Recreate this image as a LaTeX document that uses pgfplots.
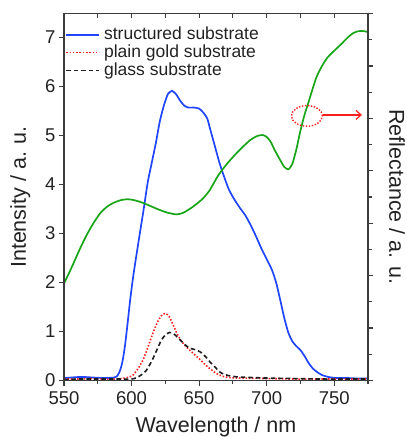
\documentclass[border=0pt]{standalone}
\usepackage{pgfplots}
\pgfplotsset{compat=1.18}
\usepackage{fontspec}
\setmainfont{Liberation Sans}
\usetikzlibrary{arrows.meta}
\definecolor{axgray}{HTML}{3C3C3C}
\definecolor{txtgray}{HTML}{222222}
\definecolor{cblue}{HTML}{1F45FF}
\definecolor{cred}{HTML}{FF1E1E}
\definecolor{cgreen}{HTML}{18A518}
\definecolor{cblack}{HTML}{1E1E1E}
\pgfplotstableread{
x y
550 0.05
555 0.06
560 0.07
566 0.07
572 0.06
580 0.05
587 0.06
589 0.08
591 0.17
593 0.35
595 0.68
597 1.15
599 1.65
601 2.08
603 2.45
606 2.98
609 3.5
612 4.05
615 4.45
618 4.85
621 5.3
624 5.62
627 5.85
630 5.91
633 5.84
636 5.71
639 5.61
642 5.57
646 5.57
650 5.55
653 5.47
656 5.35
658 5.15
661 4.85
665 4.45
668 4.2
672 3.9
676 3.7
680 3.53
684 3.38
688 3.18
692 2.95
696 2.70
700 2.48
704 2.25
707 2.0
710 1.65
713 1.28
716 0.98
719 0.80
722 0.70
725 0.62
728 0.50
731 0.36
734 0.25
737 0.18
741 0.11
746 0.07
752 0.05
760 0.05
768 0.04
775 0.04
}\structured
\pgfplotstableread{
x y
550 0.03
560 0.03
570 0.04
580 0.03
590 0.03
595 0.05
598 0.07
601 0.11
605 0.25
609 0.45
613 0.75
616 0.98
619 1.18
622 1.32
625 1.37
628 1.30
631 1.12
634 0.94
637 0.80
640 0.70
643 0.62
647 0.52
651 0.42
655 0.31
659 0.22
663 0.14
667 0.09
672 0.06
680 0.05
700 0.04
720 0.03
740 0.03
760 0.03
775 0.03
}\gold
\pgfplotstableread{
x y
550 0.02
560 0.03
570 0.03
580 0.03
590 0.03
600 0.03
604 0.06
608 0.13
611 0.21
615 0.40
619 0.64
622 0.82
625 0.93
628 0.98
631 0.96
634 0.88
637 0.80
640 0.72
643 0.66
647 0.63
651 0.58
655 0.48
658 0.38
662 0.27
665 0.18
669 0.12
674 0.09
680 0.07
700 0.05
720 0.04
740 0.03
760 0.03
775 0.03
}\glass
\pgfplotstableread{
x y
550 1.98
553 2.15
557 2.39
562 2.70
567 2.98
572 3.22
577 3.42
582 3.55
587 3.63
592 3.68
597 3.70
602 3.68
608 3.63
614 3.56
620 3.49
626 3.43
633 3.39
638 3.42
643 3.50
648 3.60
653 3.72
658 3.89
664 4.18
670 4.40
676 4.59
682 4.76
688 4.91
693 4.99
697 5.01
700 4.97
703 4.87
706 4.70
710 4.50
713 4.36
716 4.31
719 4.42
722 4.72
725 5.10
728 5.42
731 5.68
734 5.95
737 6.20
741 6.42
745 6.59
750 6.73
755 6.86
760 7.00
764 7.09
768 7.13
772 7.13
775 7.11
}\refl
\begin{document}
\begin{tikzpicture}
\pgfplotsset{
  every axis/.append style={
    scale only axis, width=304pt, height=367pt,
    xmin=550, xmax=775,
    axis line style={draw=axgray, line width=1.2pt},
    every tick/.style={draw=axgray, line width=1.2pt},
    major tick length=5pt, minor tick length=3.5pt,
    /pgf/number format/assume math mode=true,
    tick label style={font=\fontsize{18.5}{20}\selectfont, text=txtgray},
    label style={font=\fontsize{21.5}{23}\selectfont, text=txtgray, inner sep=0pt},
  }
}
% main axis
\begin{axis}[
  ymin=0, ymax=7.49,
  xtick={550,600,...,750}, minor xtick={575,625,...,775},
  ytick={0,...,7},
  xtick pos=bottom, ytick pos=left, tick align=outside,
  xticklabel style={yshift=-3pt},
  xlabel={Wavelength / nm},
  ylabel={Intensity / a. u.},
  xlabel style={at={(axis description cs:0.5,-0.098)}, anchor=north},
  ylabel style={at={(axis description cs:-0.1776,0.5)}, anchor=north},
  legend style={at={(axis description cs:0.004,0.966)}, anchor=north west, draw=none, fill=none, inner sep=0pt, row sep=1pt,
    font=\fontsize{17.5}{18}\selectfont, text=txtgray,
    nodes={inner sep=1pt, text height=12pt, text depth=3pt},
    /tikz/every odd column/.append style={column sep=3pt}},
  legend cell align=left,
  legend image code/.code={\draw[#1] (0pt,0pt) -- (33pt,0pt);},
]
\addplot[cblue, line width=1.7pt, smooth, tension=0.4] table[x=x,y=y] {\structured};
\addlegendentry{structured substrate}
\addplot[cred, line width=1.6pt, dash pattern=on 1.5pt off 1.8pt, smooth, tension=0.4] table[x=x,y=y] {\gold};
\addlegendentry{plain gold substrate}
\addplot[cblack, line width=1.6pt, dash pattern=on 4.5pt off 3pt, smooth, tension=0.4] table[x=x,y=y] {\glass};
\addlegendentry{glass substrate}
\addplot[cgreen, line width=1.7pt, smooth, tension=0.4, forget plot] table[x=x,y=y] {\refl};
\draw[cred, line width=1.4pt, dash pattern=on 1.4pt off 1.6pt] (axis cs:729.8,5.40) ellipse [x radius=15.5pt, y radius=10.3pt];
\draw[cred, line width=1.2pt, -{Straight Barb[length=5pt,width=9pt]}] (axis cs:741.6,5.42) -- (axis cs:770.5,5.42);
\end{axis}
% top ticks and inward left minor ticks
\begin{axis}[
  ymin=0, ymax=7.49,
  xtick={575,600,...,750}, xticklabels={},
  xtick pos=top,
  ytick=\empty, minor ytick={0.5,1.5,...,6.5}, ytick pos=left,
  tick align=inside,
]
\end{axis}
% right axis
\begin{axis}[
  ymin=0, ymax=7,
  xtick=\empty,
  ytick={0,...,7}, minor ytick={0.5,1.5,...,6.5},
  yticklabels={},
  ytick pos=right, tick align=outside,
  ylabel={Reflectance / a. u.},
  ylabel style={at={(axis description cs:1.122,0.5)}, anchor=north, rotate=180},
]
\end{axis}
\pgfresetboundingbox
\path (-64pt,-56.5pt) rectangle (343pt,380.5pt);
\end{tikzpicture}
\end{document}
